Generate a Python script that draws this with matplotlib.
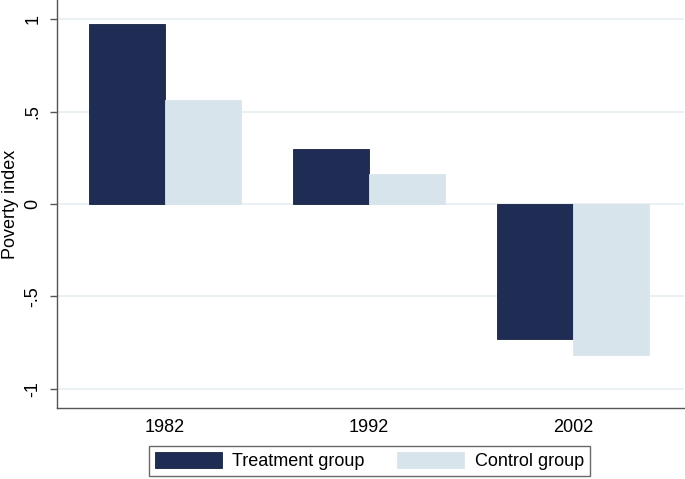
import matplotlib
matplotlib.use("Agg")
import matplotlib.pyplot as plt
import numpy as np

years = ["1982", "1992", "2002"]
treatment = [0.973, 0.297, -0.73]
control = [0.562, 0.162, -0.816]
yticks = [-1, -0.5, 0, 0.5, 1]
yticklabels = ["-1", "-.5", "0", ".5", "1"]

plt.rcParams['font.family'] = ['Liberation Sans', 'DejaVu Sans']

navy = "#1f2c54"
light = "#d8e4ec"
grid = "#e6eff3"

fig = plt.figure(figsize=(6.85, 4.79), dpi=100)
ax = fig.add_axes([57/685, 71/479, 627/685, 408/479])

x = np.arange(len(years))
w = 0.372
ax.bar(x - w/2, treatment, w, color=navy, edgecolor="#17223f", linewidth=0.6, label="Treatment group", zorder=3)
ax.bar(x + w/2, control, w, color=light, edgecolor=light, linewidth=0.6, label="Control group", zorder=3)

ax.set_xlim(-0.53, 2.545)
ax.set_ylim(-1.103, 1.103)
ax.set_yticks(yticks)
ax.set_yticklabels(yticklabels, rotation=90, va="center", fontsize=13)
ax.set_xticks(x)
ax.set_xticklabels(years, fontsize=13)
ax.tick_params(axis="x", length=0, pad=8)
ax.tick_params(axis="y", length=5, width=1, color="#555555", pad=6)
ax.yaxis.grid(True, color=grid, linewidth=1.2, zorder=0)
ax.set_axisbelow(True)
for s in ["top", "right"]:
    ax.spines[s].set_visible(False)
for s in ["left", "bottom"]:
    ax.spines[s].set_color("#555555")
    ax.spines[s].set_linewidth(1.0)
ax.set_ylabel("Poverty index", fontsize=13, labelpad=4)

handles, labels = ax.get_legend_handles_labels()
leg = fig.legend(handles, labels, loc="center", bbox_to_anchor=(369.5/685, 1-461/479),
                 ncol=2, fontsize=13, frameon=True, fancybox=False, edgecolor="#444444",
                 handlelength=3.7, handleheight=1.0, handletextpad=0.6, columnspacing=1.8,
                 borderpad=0.3, borderaxespad=0)
leg.get_frame().set_linewidth(1.0)

fig.savefig("out.png", dpi=100)
